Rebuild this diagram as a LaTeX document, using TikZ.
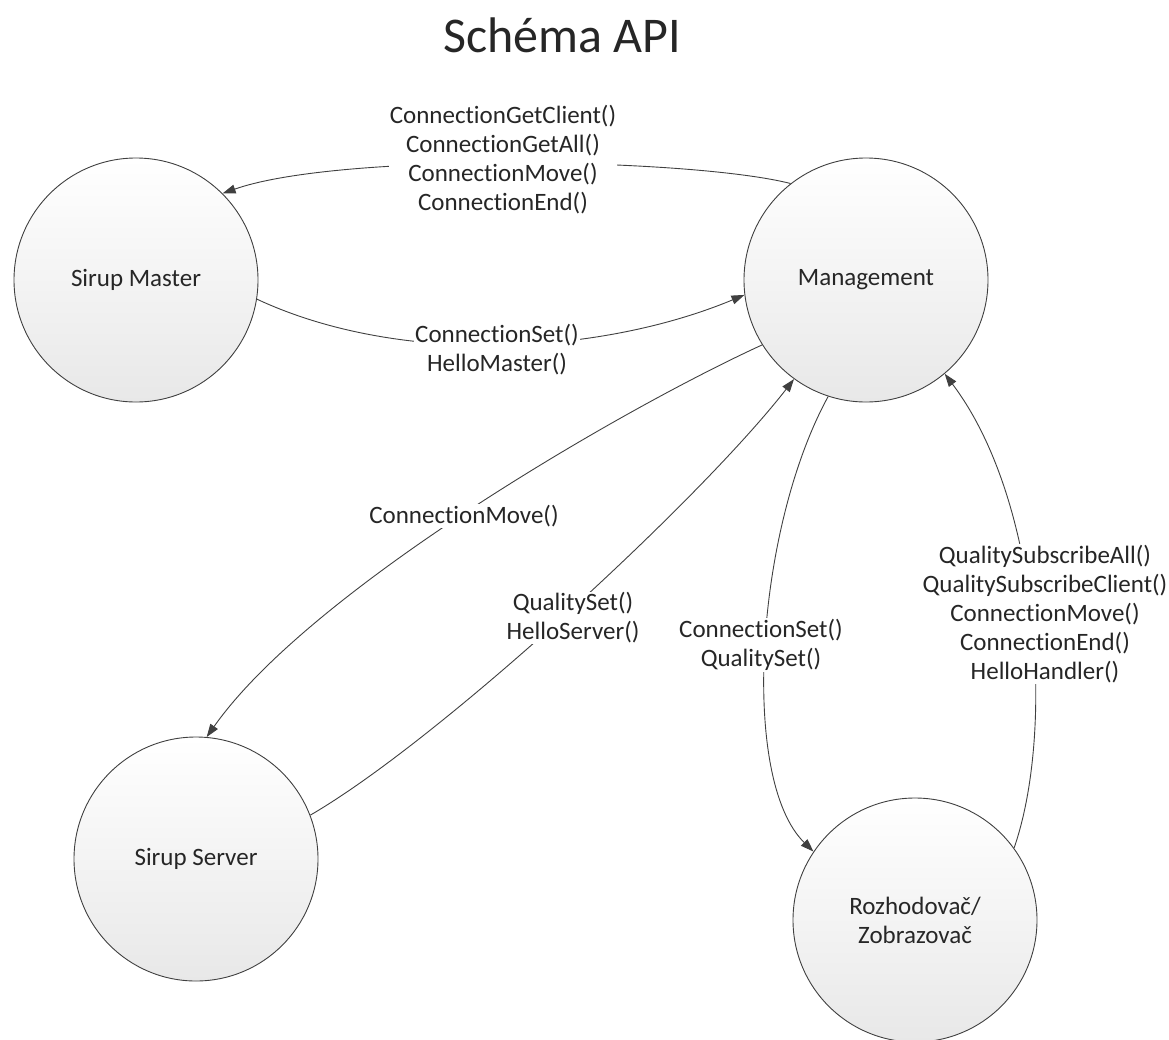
\documentclass[tikz,border=0pt]{standalone}
\usepackage{fontspec}
\setmainfont{Carlito}[RawFeature={-liga;-clig;-dlig}]
\usetikzlibrary{arrows.meta}
\definecolor{linec}{HTML}{404040}
\definecolor{textc}{HTML}{262626}
\begin{document}
\begin{tikzpicture}[x=1pt,y=-1pt,
  state/.style={circle,draw=linec,line width=0.9pt,minimum size=244pt,inner sep=0pt,
    top color=white,bottom color=black!9,font=\fontsize{25}{29}\selectfont,text=textc,align=center},
  conn/.style={draw=linec,line width=0.9pt,-{Triangle[length=13pt,width=9pt]}},
  lbl/.style={fill=white,inner sep=1pt,align=center,font=\fontsize{25}{29}\selectfont,text=textc}]
\useasboundingbox (0,0) rectangle (1169,1039);
\node[anchor=base,font=\fontsize{50}{60}\selectfont,text=textc] (title) at (562,52) {Schéma API};
\node[state] (master) at (136,280) {Sirup Master};
\node[state] (mgmt) at (866,280) {Management};
\node[state] (server) at (196,859) {Sirup Server};
\node[state] (rozh) at (915,920) {Rozhodovač/\\Zobrazovač};
% connectors
\draw[conn] (mgmt.128) .. controls (690,158) and (340,152) .. (master.45);
\draw[conn] (master.-9) .. controls (400,366) and (600,355) .. (mgmt.187);
\draw[conn] (mgmt.212) .. controls (620,410) and (310,590) .. (server.85);
\draw[conn] (server.21) .. controls (440,740) and (700,500) .. (mgmt.234);
\draw[conn] (mgmt.252) .. controls (755,530) and (740,780) .. (rozh.146);
\draw[conn] (rozh.36) .. controls (1055,730) and (1040,500) .. (mgmt.310);
% labels
\node[lbl] (l1) at (503,160) {ConnectionGetClient()\\ConnectionGetAll()\\ConnectionMove()\\ConnectionEnd()};
\node[lbl] (l2) at (497,350) {ConnectionSet()\\HelloMaster()};
\node[lbl] (l3) at (464,516) {ConnectionMove()};
\node[lbl] (l4) at (573,618) {QualitySet()\\HelloServer()};
\node[lbl] (l5) at (761,645) {ConnectionSet()\\QualitySet()};
\node[lbl] (l6) at (1045,614) {QualitySubscribeAll()\\QualitySubscribeClient()\\ConnectionMove()\\ConnectionEnd()\\HelloHandler()};
\end{tikzpicture}
\end{document}
